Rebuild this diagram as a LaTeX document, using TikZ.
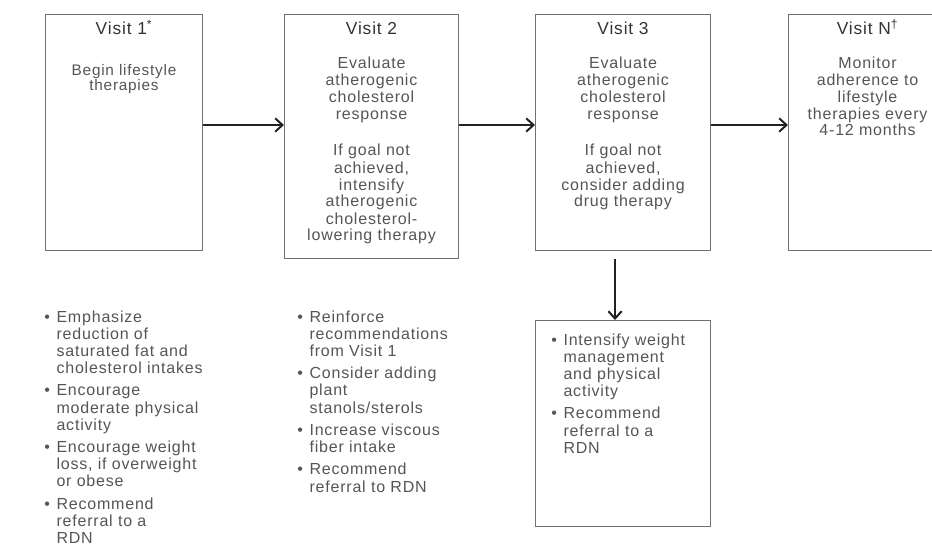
\documentclass[tikz,border=0pt]{standalone}
\usepackage{fontspec}
\setmainfont{Liberation Sans}[LetterSpace=5]
\usetikzlibrary{positioning, arrows.meta}
\definecolor{boxgray}{HTML}{707070}
\definecolor{textgray}{HTML}{555555}
\definecolor{titlegray}{HTML}{333333}
\definecolor{arrowgray}{HTML}{222222}
\tikzstyle{visit} = [rectangle, 
draw=boxgray, 
line width=0.8pt, 
anchor=north west, 
inner sep=0pt]
\tikzstyle{visittitle} = [anchor=base, 
text=titlegray, 
font=\fontsize{13}{15}\selectfont]
\tikzstyle{visitbody} = [anchor=base, 
inner sep=0pt, 
text=textgray, 
font=\fontsize{12}{12.75}\selectfont]
\tikzstyle{bulletlist} = [anchor=base west, 
inner sep=0pt, 
text=textgray, 
font=\fontsize{12}{12.9}\selectfont]
\tikzstyle{arrow} = [line width=1.5pt, draw=arrowgray, ->, >={Straight Barb[length=5.5pt, width=10pt]}]

\begin{document}
\begin{tikzpicture}[x=0.75pt, y=-0.75pt]
    \useasboundingbox (0,0) rectangle (932,546);

    % visit boxes
    \node (v1) [visit, minimum width=117.75pt, minimum height=177pt] at (45,14) {};
    \node (v2) [visit, minimum width=130.5pt, minimum height=183pt] at (284,14) {};
    \node (v3) [visit, minimum width=131.25pt, minimum height=177pt] at (535,14) {};
    \node (vn) [visit, minimum width=118.5pt, minimum height=177pt] at (788,14) {};
    \node (drug) [visit, minimum width=131.25pt, minimum height=154.5pt] at (535,320) {};

    \node (t1) [visittitle] at ([yshift=-15pt]v1.north) {Visit 1\textsuperscript{*}};
    \node (t2) [visittitle] at ([yshift=-15pt]v2.north) {Visit 2};
    \node (t3) [visittitle] at ([yshift=-15pt]v3.north) {Visit 3};
    \node (tn) [visittitle] at ([yshift=-15pt]vn.north) {Visit N\textsuperscript{\textdagger}};

    \node (b1) [visitbody, font=\fontsize{11.5}{9.5}\selectfont] at ([yshift=-46pt]v1.north)
        {\begin{tabular}[t]{@{}c@{}}Begin lifestyle\\therapies\end{tabular}};
    \node (b2) [visitbody] at ([yshift=-40.5pt]v2.north) {\begin{tabular}[t]{@{}c@{}}
        Evaluate\\atherogenic\\cholesterol\\response\\[15pt]
        If goal not\\achieved,\\intensify\\atherogenic\\cholesterol-\\lowering therapy
    \end{tabular}};
    \node (b3) [visitbody] at ([yshift=-40.5pt]v3.north) {\begin{tabular}[t]{@{}c@{}}
        Evaluate\\atherogenic\\cholesterol\\response\\[15pt]
        If goal not\\achieved,\\consider adding\\drug therapy
    \end{tabular}};
    \node (bn) [visitbody] at ([yshift=-40.5pt]vn.north) {\begin{tabular}[t]{@{}c@{}}
        Monitor\\adherence to\\lifestyle\\therapies every\\4-12 months
    \end{tabular}};

    % recommendations under each visit
    \node (l1) [bulletlist] at (44,322) {\begin{tabular}[t]{@{}l@{\hspace{5pt}}l@{}}
        \textbullet & Emphasize\\ & reduction of\\ & saturated fat and\\ & cholesterol intakes\\[3.8pt]
        \textbullet & Encourage\\ & moderate physical\\ & activity\\[3.8pt]
        \textbullet & Encourage weight\\ & loss, if overweight\\ & or obese\\[3.8pt]
        \textbullet & Recommend\\ & referral to a\\ & RDN
    \end{tabular}};
    \node (l2) [bulletlist] at (297,322) {\begin{tabular}[t]{@{}l@{\hspace{5pt}}l@{}}
        \textbullet & Reinforce\\ & recommendations\\ & from Visit 1\\[3.8pt]
        \textbullet & Consider adding\\ & plant\\ & stanols/sterols\\[3.8pt]
        \textbullet & Increase viscous\\ & fiber intake\\[3.8pt]
        \textbullet & Recommend\\ & referral to RDN
    \end{tabular}};
    \node (l3) [bulletlist] at (551,345) {\begin{tabular}[t]{@{}l@{\hspace{5pt}}l@{}}
        \textbullet & Intensify weight\\ & management\\ & and physical\\ & activity\\[3.8pt]
        \textbullet & Recommend\\ & referral to a\\ & RDN
    \end{tabular}};

    \coordinate (ay) at (0,125);
    \draw [arrow] (v1.east |- ay) -- (v2.west |- ay);
    \draw [arrow] (v2.east |- ay) -- (v3.west |- ay);
    \draw [arrow] (v3.east |- ay) -- (vn.west |- ay);
    \draw [arrow] ([xshift=-6pt, yshift=-6pt]v3.south) -- ([xshift=-6pt]drug.north);
\end{tikzpicture}
\end{document}
